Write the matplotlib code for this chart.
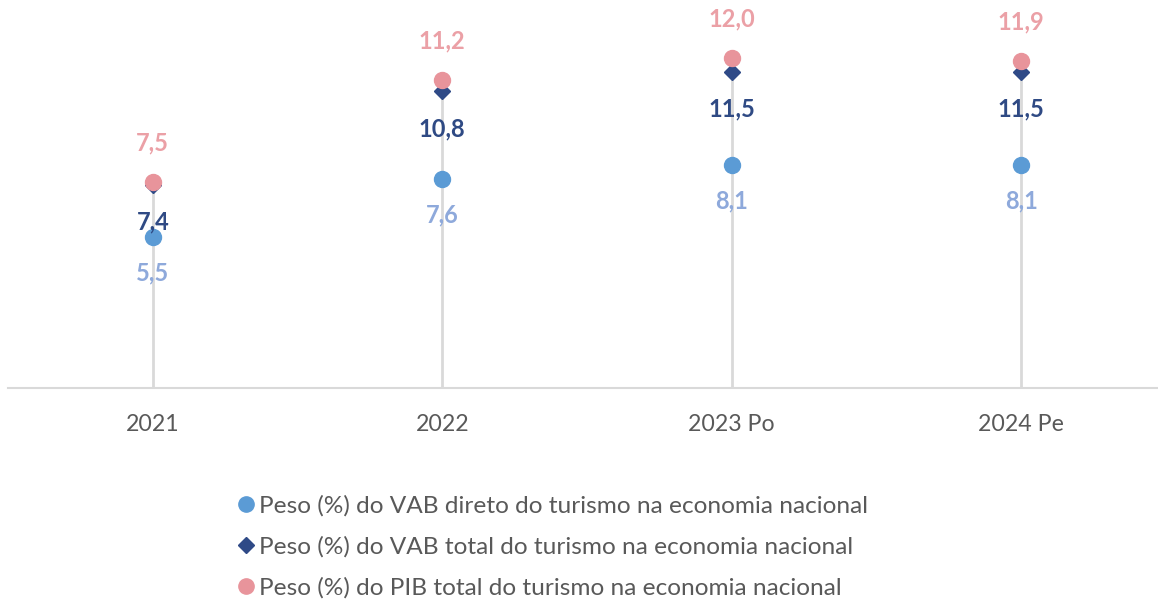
import matplotlib.pyplot as plt

# data
categories = ["2021", "2022", "2023 Po", "2024 Pe"]
vab_direto = [5.5, 7.6, 8.1, 8.1]
vab_total = [7.4, 10.8, 11.5, 11.5]
pib_total = [7.5, 11.2, 12.0, 11.9]

labels = [
    "Peso (%) do VAB direto do turismo na economia nacional",
    "Peso (%) do VAB total do turismo na economia nacional",
    "Peso (%) do PIB total do turismo na economia nacional",
]

plt.rcParams["font.family"] = ["Lato", "DejaVu Sans"]

W, H = 1158, 602
fig = plt.figure(figsize=(W / 100, H / 100), dpi=100)
# axes box in pixels: x 8..1166, y 3..388
ax = fig.add_axes([8 / W, 1 - 388 / H, 1158 / W, 385 / H])

x = list(range(len(categories)))
tops = [max(a, b, c) for a, b, c in zip(vab_direto, vab_total, pib_total)]

ax.vlines(x, 0, tops, color="#D9D9D9", lw=2, zorder=1)

ax.plot(x, vab_direto, "o", ms=11.5, color="#5B9BD5", zorder=3)
ax.plot(x, vab_total, "D", ms=8, color="#2F4A87", zorder=3)
ax.plot(x, pib_total, "o", ms=11.5, color="#E8949B", zorder=4)

fmt = lambda v: f"{v:.1f}".replace(".", ",")
for xi, a, b, c in zip(x, vab_direto, vab_total, pib_total):
    ax.annotate(fmt(a), (xi, a), xytext=(0, -26), textcoords="offset points",
                ha="center", va="center", fontsize=17, fontweight="bold",
                color="#8EA9DB")
    ax.annotate(fmt(b), (xi, b), xytext=(0, -27), textcoords="offset points",
                ha="center", va="center", fontsize=17, fontweight="bold",
                color="#2F4A84")
    ax.annotate(fmt(c), (xi, c), xytext=(0, 28), textcoords="offset points",
                ha="center", va="center", fontsize=17, fontweight="bold",
                color="#EBA0A6")

ax.set_xlim(-0.5, 3.5)
ax.set_ylim(0, 14)
ax.set_yticks([])
ax.set_xticks(x)
ax.set_xticklabels(categories, fontsize=16.7, color="#595959")
ax.tick_params(axis="x", length=0, pad=19)
for s in ["top", "right", "left"]:
    ax.spines[s].set_visible(False)
ax.spines["bottom"].set_color("#D9D9D9")
ax.spines["bottom"].set_linewidth(1.5)

# legend
h1 = plt.Line2D([], [], ls="", marker="o", ms=11, color="#5B9BD5")
h2 = plt.Line2D([], [], ls="", marker="D", ms=8, color="#2F4A87")
h3 = plt.Line2D([], [], ls="", marker="o", ms=11, color="#E8949B")
fig.legend([h1, h2, h3], labels, loc="upper left",
           bbox_to_anchor=(230 / W, 1 - 485 / H), frameon=False,
           fontsize=17.6, labelcolor="#595959", handlelength=0.5,
           handletextpad=0.3, labelspacing=0.8, borderaxespad=0)

fig.savefig("out.png", dpi=100)
